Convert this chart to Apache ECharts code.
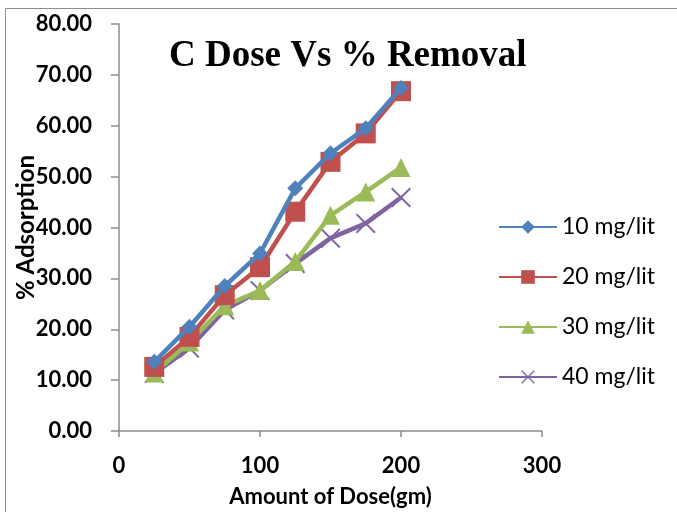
<!DOCTYPE html>
<html>
<head>
<meta charset="utf-8">
<script src="https://cdn.jsdelivr.net/npm/echarts@6/dist/echarts.min.js"></script>
<style>html,body{margin:0;padding:0;background:#fff;}#c{width:677px;height:512px;}</style>
</head>
<body>
<div id="c"></div>
<script>
var doses = [25, 50, 75, 100, 125, 150, 175, 200];
var s10 = [13.6, 20.5, 28.5, 34.9, 47.7, 54.6, 59.5, 67.4];
var s20 = [12.6, 18.5, 26.7, 32.2, 43.1, 52.9, 58.5, 66.8];
var s30 = [11.4, 17.5, 24.6, 27.6, 33.3, 42.4, 47.0, 51.8];
var s40 = [11.3, 16.3, 23.8, 27.6, 32.9, 37.9, 40.8, 45.9];
var seriesNames = ['10 mg/lit', '20 mg/lit', '30 mg/lit', '40 mg/lit'];
var yTicks = [0, 10, 20, 30, 40, 50, 60, 70, 80];
var xTicks = [0, 100, 200, 300];

function pairs(v) { return doses.map(function (d, i) { return [d, v[i]]; }); }
var xPath = 'path://M0,0.7L0.7,0L5,4.3L9.3,0L10,0.7L5.7,5L10,9.3L9.3,10L5,5.7L0.7,10L0,9.3L4.3,5Z';
var colors = ['#4F81BD', '#C0504D', '#9BBB59', '#8064A2'];
var symbols = ['diamond', 'rect', 'triangle', xPath];
var sizes = [16, 20, 19, 20];
var vals = [s10, s20, s30, s40];

var chart = echarts.init(document.getElementById('c'));
chart.setOption({
  animation: false,
  color: colors,
  title: {
    text: 'C Dose Vs % Removal',
    left: 164, top: 33,
    textStyle: { fontFamily: 'Liberation Serif', fontWeight: 'bold', fontSize: 37, color: '#000' }
  },
  graphic: [{
    type: 'rect', shape: { x: 5.5, y: 8.5, width: 700, height: 600 },
    style: { fill: 'none', stroke: '#8c8c8c', lineWidth: 1 }, silent: true, z: -10
  }],
  legend: {
    orient: 'vertical', left: 493, top: 210, itemGap: 26,
    itemWidth: 58, itemHeight: 17,
    data: seriesNames,
    textStyle: { fontFamily: 'Lato', fontSize: 23, lineHeight: 24, color: '#000' }
  },
  grid: { left: 119, top: 24, width: 423, height: 407, containLabel: false, outerBoundsMode: 'none' },
  xAxis: {
    type: 'value', min: xTicks[0], max: xTicks[xTicks.length - 1], interval: 100,
    name: 'Amount of Dose(gm)', nameLocation: 'middle', nameGap: 55, nameMoveOverlap: false,
    nameTextStyle: { fontFamily: 'Lato', fontWeight: 'bold', fontSize: 22, color: '#000' },
    axisLine: { show: true, lineStyle: { color: '#8c8c8c', width: 1.5 } },
    axisTick: { show: true, length: 6, inside: false, lineStyle: { color: '#8c8c8c', width: 1.5 } },
    axisLabel: { margin: 24, fontFamily: 'Lato', fontWeight: 'bold', fontSize: 22, color: '#000' },
    splitLine: { show: false }
  },
  yAxis: {
    type: 'value', min: yTicks[0], max: yTicks[yTicks.length - 1], interval: 10,
    name: '% Adsorption', nameLocation: 'middle', nameGap: 81, nameMoveOverlap: false,
    nameTextStyle: { fontFamily: 'Lato', fontWeight: 'bold', fontSize: 24, color: '#000' },
    axisLine: { show: true, lineStyle: { color: '#8c8c8c', width: 1.5 } },
    axisTick: { show: true, length: 8, inside: false, lineStyle: { color: '#8c8c8c', width: 1.5 } },
    axisLabel: { margin: 27, fontFamily: 'Lato', fontWeight: 'bold', fontSize: 22, color: '#000',
      formatter: function (v) { return v.toFixed(2); } },
    splitLine: { show: false }
  },
  series: vals.map(function (v, i) {
    return {
      name: seriesNames[i], type: 'line', data: pairs(v),
      symbol: symbols[i], symbolSize: sizes[i], showSymbol: true,
      lineStyle: { width: 4.5, color: colors[i] },
      itemStyle: { color: colors[i] },
      z: 10 - i
    };
  })
});
</script>
</body>
</html>
